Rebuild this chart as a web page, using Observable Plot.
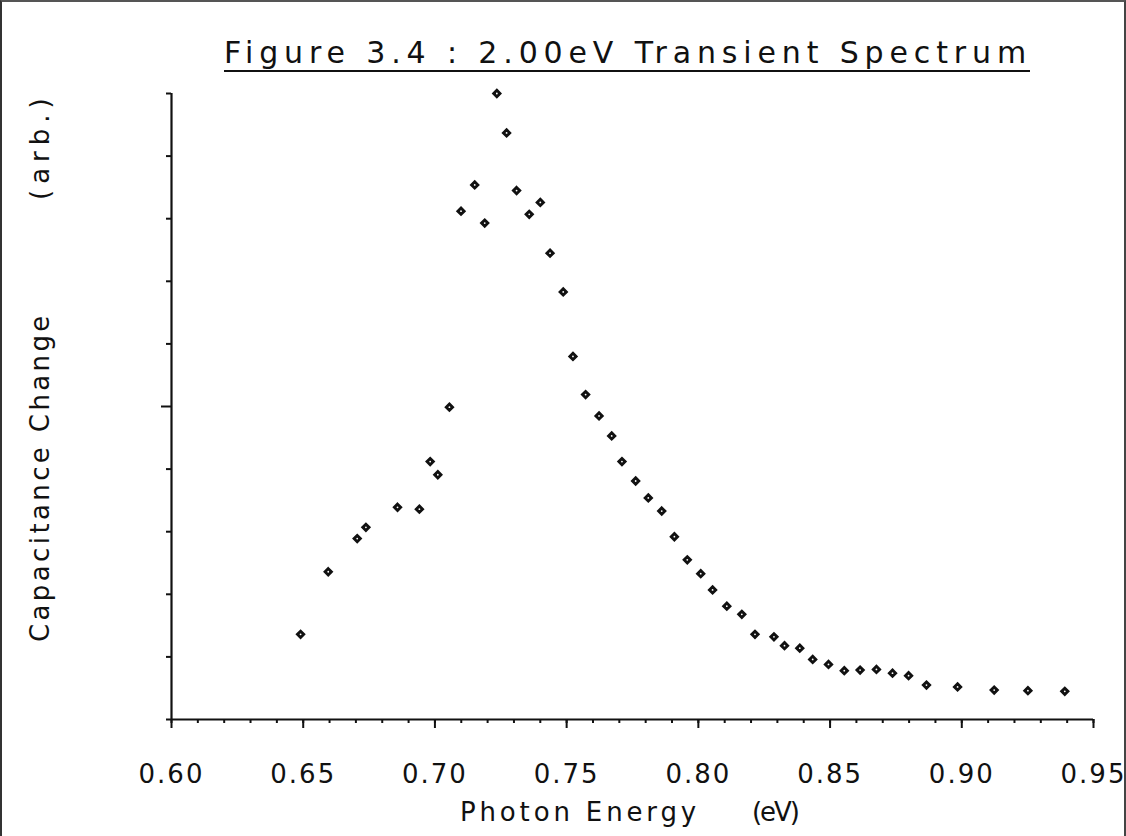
<!DOCTYPE html>
<html>
<head>
<meta charset="utf-8">
<script src="https://cdn.jsdelivr.net/npm/d3@7"></script>
<script src="https://cdn.jsdelivr.net/npm/@observablehq/plot@0.6"></script>
<style>
  html, body { margin: 0; padding: 0; background: white; }
  #wrap { position: relative; width: 1126px; height: 836px; overflow: hidden; background: white; }
  #border { position: absolute; left: 0; top: 0; width: 1122px; height: 840px; border-left: 2px solid #333; border-top: 2px solid #555; border-right: 2px solid #444; pointer-events: none; }
  .lbl { position: absolute; font-family: "DejaVu Sans", sans-serif; color: #111; white-space: pre; line-height: 1; }
  #title { font-size: 30px; }
  #title-ul { position: absolute; height: 2px; background: #111; }
  .xl { font-size: 26px; }
  .yl { font-size: 26px; transform-origin: 0 0; transform: rotate(-90deg); }
  #chart svg g[aria-label="x-axis tick label"] text { letter-spacing: 2px; }
</style>
</head>
<body>
<div id="wrap">
  <div id="chart"></div>
  <div id="title" class="lbl">Figure 3.4 : 2.00eV Transient Spectrum</div>
  <div id="title-ul"></div>
  <div id="xl1" class="lbl xl">Photon Energy</div>
  <div id="xl2" class="lbl xl">(eV)</div>
  <div id="yl1" class="lbl yl">Capacitance Change</div>
  <div id="yl2" class="lbl yl">(arb.)</div>
  <div id="border"></div>
</div>
<script>
// Photon energy (eV)
const energy = [
  0.649, 0.6595, 0.6705, 0.6738, 0.6858, 0.6941, 0.6982, 0.7011, 0.7055,
  0.7099, 0.7151, 0.7189, 0.7235, 0.7272, 0.7310, 0.7358, 0.7400, 0.7437,
  0.7487, 0.7524, 0.7572, 0.7623, 0.7671, 0.7710, 0.7762, 0.7810, 0.7861,
  0.7909, 0.7958, 0.8009, 0.8054, 0.8108, 0.8165, 0.8215, 0.8287, 0.8327,
  0.8385, 0.8434, 0.8494, 0.8554, 0.8614, 0.8676, 0.8737, 0.8798, 0.8866,
  0.8984, 0.9123, 0.9251, 0.9391
];
// Capacitance change (arb.), normalised to the axis height
const capChange = [
  0.136, 0.236, 0.289, 0.307, 0.339, 0.336, 0.412, 0.391, 0.499,
  0.812, 0.854, 0.793, 1.000, 0.937, 0.845, 0.807, 0.826, 0.745,
  0.683, 0.580, 0.519, 0.485, 0.453, 0.412, 0.381, 0.354, 0.333,
  0.292, 0.255, 0.233, 0.207, 0.181, 0.168, 0.136, 0.132, 0.118,
  0.114, 0.096, 0.088, 0.078, 0.079, 0.080, 0.074, 0.070, 0.055,
  0.052, 0.047, 0.046, 0.045
];
const xMinorTicks = d3.range(60, 96).map(d => d / 100);
const xMajorTicks = [0.60, 0.65, 0.70, 0.75, 0.80, 0.85, 0.90, 0.95];
const yMinorTicks = [0, 0.1, 0.2, 0.3, 0.4, 0.6, 0.7, 0.8, 0.9, 1.0];
const yMajorTicks = [0.5];

const points = energy.map((e, i) => ({energy: e, value: capChange[i]}));

const chart = Plot.plot({
  width: 1126,
  height: 836,
  marginLeft: 171,
  marginRight: 33,
  marginTop: 93,
  marginBottom: 117,
  x: {domain: [0.60, 0.95]},
  y: {domain: [0, 1]},
  style: {fontFamily: "DejaVu Sans, sans-serif", fontSize: "26px", color: "#111", background: "white"},
  marks: [
    Plot.ruleY([0], {stroke: "#111", strokeWidth: 2}),
    Plot.ruleX([0.60], {stroke: "#111", strokeWidth: 2.2}),
    Plot.axisX(xMinorTicks, {tickSize: 4, tickFormat: () => "", strokeWidth: 2, label: null}),
    Plot.axisX(xMajorTicks, {tickSize: 9, tickPadding: 36, tickFormat: d => d.toFixed(2), strokeWidth: 2, label: null, fontSize: 26}),
    Plot.axisY(yMinorTicks, {tickSize: 5, tickFormat: () => "", strokeWidth: 2, label: null}),
    Plot.axisY(yMajorTicks, {tickSize: 10, tickFormat: () => "", strokeWidth: 2, label: null}),
    Plot.dot(points, {x: "energy", y: "value", symbol: "diamond2", r: 3.7, fill: "#111", stroke: "#111", strokeWidth: 1.5}),
    Plot.dot(points, {x: "energy", y: "value", r: 0.9, fill: "white", stroke: "none"})
  ]
});
document.getElementById("chart").appendChild(chart);

function fit(id, left, top, width) {
  const el = document.getElementById(id);
  el.style.left = left + "px";
  el.style.top = top + "px";
  el.style.letterSpacing = "0px";
  const w = el.getBoundingClientRect().width;
  const n = el.textContent.length;
  el.style.letterSpacing = ((width - w) / n) + "px";
}
function fitY(id, bottom, centerX, length) {
  const el = document.getElementById(id);
  el.style.letterSpacing = "0px";
  const w = el.offsetWidth;
  const n = el.textContent.length;
  el.style.letterSpacing = ((length - w) / n) + "px";
  const h = el.offsetHeight;
  el.style.left = (centerX - h / 2) + "px";
  el.style.top = bottom + "px";
}
fit("title", 224, 38, 808);
const ul = document.getElementById("title-ul");
ul.style.left = "224px"; ul.style.top = "70px"; ul.style.width = "806px";
fit("xl1", 460, 799, 240);
fit("xl2", 752, 799, 46);
fitY("yl1", 642, 40, 330);
fitY("yl2", 200, 40, 108);
</script>
</body>
</html>
